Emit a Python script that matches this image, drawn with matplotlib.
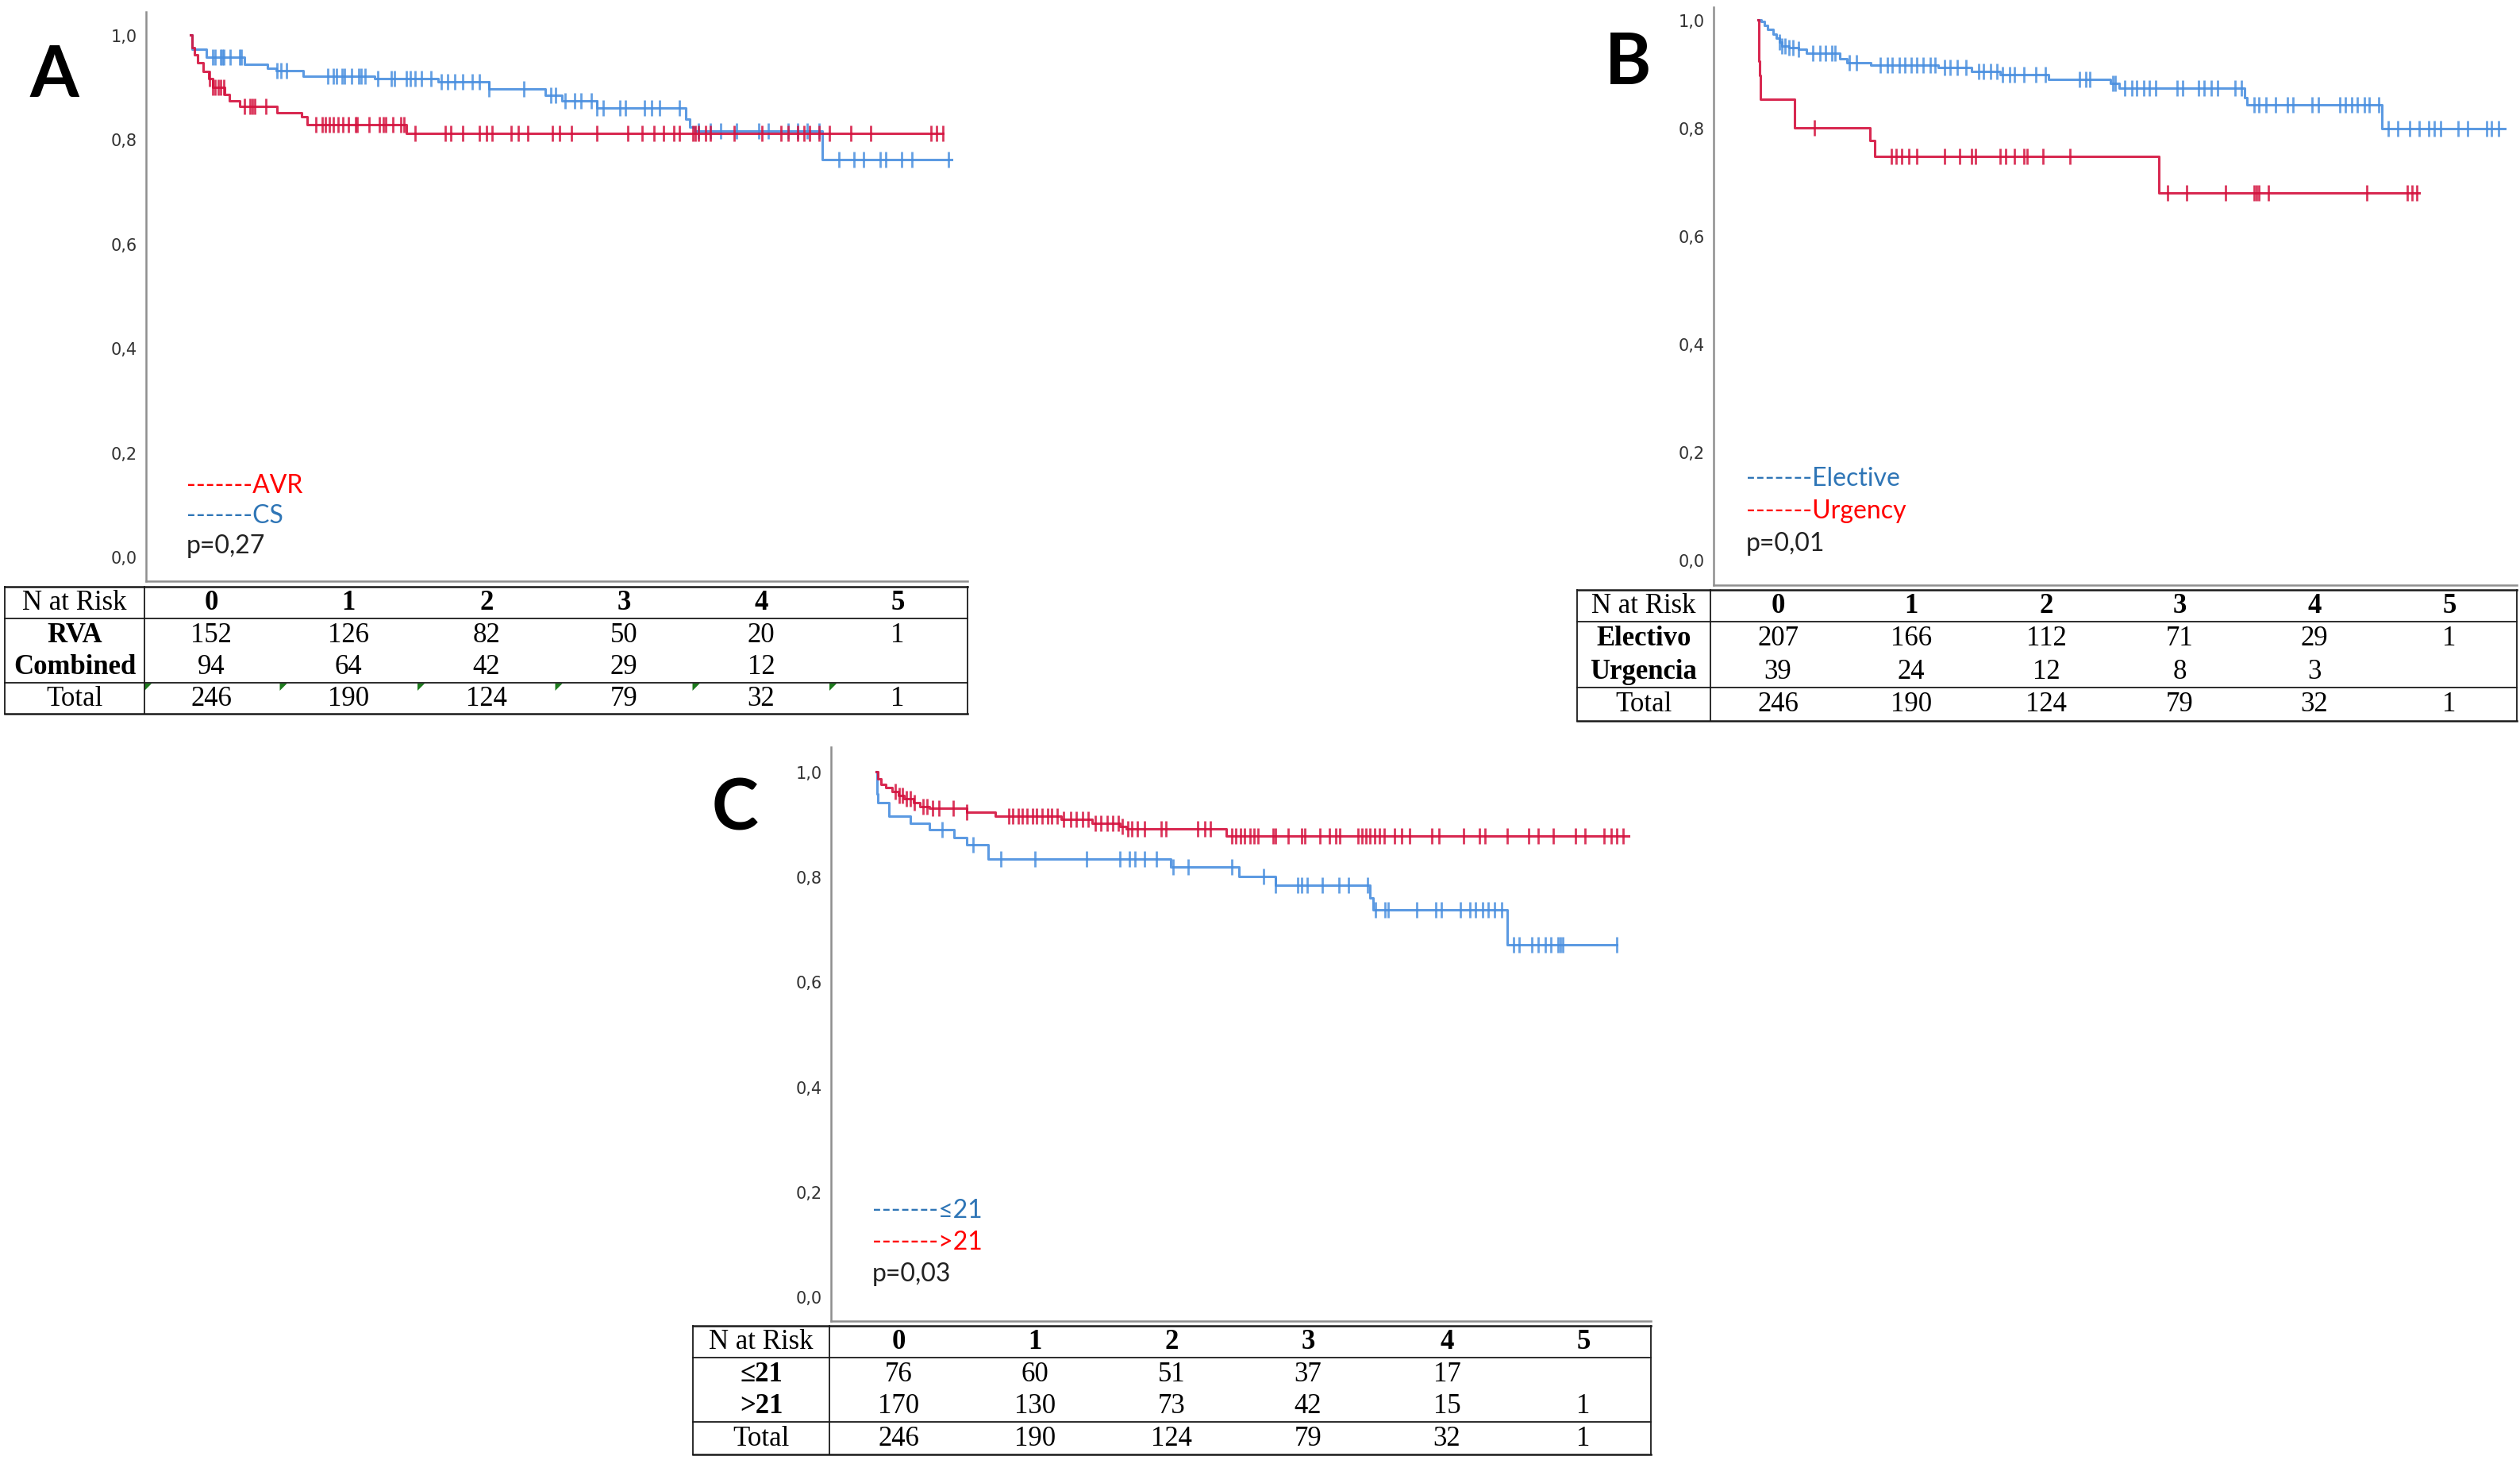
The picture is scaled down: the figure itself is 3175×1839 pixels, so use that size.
import matplotlib
matplotlib.use('Agg')
import matplotlib.pyplot as plt
import numpy as np

W, H = 3175, 1840
RED = '#d4123e'
BLUE = '#4a8fdf'
TXT_RED = '#ff0000'
TXT_BLUE = '#2e75b6'

# ---------- Panel A: AVR vs CS (time in years) ----------
avr_t = [0, 0.01, 0.03, 0.05, 0.09, 0.13, 0.16, 0.25, 0.28, 0.36, 0.63, 0.81, 0.85, 1.57]
avr_s = [1.0, 0.975, 0.962, 0.947, 0.930, 0.916, 0.900, 0.886, 0.874, 0.863, 0.851, 0.843, 0.828, 0.812]
avr_end = 5.47
avr_cens = [0.14, 0.16, 0.18, 0.20, 0.22, 0.24, 0.39, 0.43, 0.45, 0.47, 0.55, 0.91, 0.96, 0.98,
            1.01, 1.04, 1.07, 1.11, 1.15, 1.20, 1.21, 1.30, 1.37, 1.40, 1.42, 1.47, 1.53, 1.55,
            1.63, 1.85, 1.89, 1.98, 2.10, 2.15, 2.19, 2.33, 2.38, 2.45, 2.63, 2.68, 2.77, 2.95,
            3.18, 3.28, 3.37, 3.44, 3.51, 3.55, 3.65, 3.67, 3.69, 3.74, 3.78, 3.95, 4.15, 4.29,
            4.34, 4.41, 4.46, 4.50, 4.57, 4.64, 4.80, 4.94, 5.38, 5.42, 5.47]

cs_t = [0, 0.01, 0.115, 0.39, 0.56, 0.62, 0.82, 1.34, 1.80, 2.17, 2.58, 2.70, 2.95, 3.60, 3.63, 3.66, 4.59]
cs_s = [1.0, 0.973, 0.957, 0.944, 0.936, 0.931, 0.921, 0.916, 0.910, 0.896, 0.884, 0.874, 0.860,
        0.839, 0.823, 0.816, 0.761]
cs_end = 5.53
cs_cens = [0.16, 0.18, 0.22, 0.23, 0.24, 0.29, 0.36, 0.37, 0.63, 0.66, 0.70, 1.00, 1.04, 1.06,
           1.10, 1.12, 1.17, 1.22, 1.24, 1.27, 1.36, 1.46, 1.48, 1.57, 1.60, 1.63, 1.68, 1.75,
           1.82, 1.87, 1.92, 1.98, 2.05, 2.10, 2.17, 2.42, 2.62, 2.65, 2.72, 2.79, 2.84, 2.91,
           2.95, 3.00, 3.12, 3.16, 3.30, 3.35, 3.41, 3.55, 3.69, 3.78, 3.85, 3.97, 4.13, 4.20,
           4.34, 4.41, 4.48, 4.57, 4.71, 4.82, 4.89, 5.01, 5.05, 5.17, 5.24, 5.51]

# ---------- Panel B: Elective vs Urgency ----------
el_t = [0, 0.023, 0.046, 0.068, 0.114, 0.137, 0.159, 0.18, 0.23, 0.30, 0.36, 0.61, 0.66, 0.84,
        1.34, 1.59, 1.80, 2.16, 2.62, 2.69, 3.62, 3.64, 4.64]
el_s = [1.0, 0.997, 0.99, 0.983, 0.973, 0.966, 0.959, 0.952, 0.949, 0.945, 0.938, 0.928, 0.921,
        0.916, 0.912, 0.904, 0.899, 0.890, 0.882, 0.873, 0.856, 0.842, 0.799]
el_end = 5.56
el_cens = [0.16, 0.18, 0.20, 0.23, 0.26, 0.30, 0.41, 0.46, 0.50, 0.55, 0.57, 0.68, 0.73, 0.91,
           0.96, 1.00, 1.05, 1.09, 1.14, 1.18, 1.23, 1.28, 1.32, 1.39, 1.43, 1.48, 1.55, 1.64,
           1.68, 1.73, 1.78, 1.82, 1.87, 1.91, 1.98, 2.07, 2.14, 2.39, 2.44, 2.47, 2.64, 2.66,
           2.73, 2.78, 2.82, 2.87, 2.91, 2.96, 3.12, 3.16, 3.28, 3.32, 3.37, 3.42, 3.55, 3.60,
           3.69, 3.73, 3.78, 3.85, 3.94, 3.98, 4.12, 4.17, 4.33, 4.37, 4.42, 4.46, 4.51, 4.55,
           4.62, 4.69, 4.76, 4.85, 4.92, 4.99, 5.03, 5.08, 5.21, 5.28, 5.42, 5.46, 5.51]

ur_t = [0, 0.004, 0.008, 0.012, 0.016, 0.27, 0.83, 0.87, 2.98]
ur_s = [1.0, 0.949, 0.923, 0.897, 0.853, 0.800, 0.776, 0.747, 0.679]
ur_end = 4.92
ur_cens = [0.42, 0.99, 1.03, 1.07, 1.12, 1.18, 1.39, 1.50, 1.59, 1.62, 1.80, 1.84, 1.91, 1.98,
           2.00, 2.12, 2.32, 3.05, 3.19, 3.48, 3.69, 3.71, 3.73, 3.80, 4.53, 4.83, 4.87, 4.90]

# ---------- Panel C: <=21 vs >21 ----------
lo_t = [0, 0.004, 0.008, 0.012, 0.09, 0.25, 0.39, 0.57, 0.66, 0.82, 2.15, 2.65, 2.92, 3.61, 3.63, 4.61]
lo_s = [1.0, 0.974, 0.957, 0.941, 0.916, 0.901, 0.889, 0.875, 0.861, 0.833, 0.819, 0.801, 0.783,
        0.760, 0.737, 0.670]
lo_end = 5.41
lo_cens = [0.48, 0.71, 0.91, 1.16, 1.54, 1.78, 1.85, 1.89, 1.96, 2.05, 2.17, 2.28, 2.60, 2.83,
           2.92, 3.08, 3.11, 3.15, 3.26, 3.38, 3.45, 3.59, 3.65, 3.72, 3.74, 3.95, 4.09, 4.13,
           4.27, 4.34, 4.38, 4.43, 4.47, 4.52, 4.57, 4.66, 4.70, 4.79, 4.84, 4.89, 4.93, 4.98,
           5.00, 5.02, 5.41]

hi_t = [0, 0.014, 0.037, 0.068, 0.114, 0.16, 0.205, 0.27, 0.32, 0.39, 0.66, 0.87, 1.35, 1.58,
        1.78, 1.83, 2.56]
hi_s = [1.0, 0.986, 0.976, 0.969, 0.962, 0.955, 0.948, 0.941, 0.934, 0.930, 0.923, 0.916, 0.909,
        0.902, 0.895, 0.891, 0.878]
hi_end = 5.50
hi_cens = [0.14, 0.17, 0.19, 0.22, 0.25, 0.28, 0.34, 0.37, 0.41, 0.46, 0.56, 0.66, 0.97, 1.00,
           1.04, 1.07, 1.10, 1.14, 1.17, 1.21, 1.25, 1.28, 1.32, 1.37, 1.42, 1.46, 1.51, 1.55,
           1.60, 1.64, 1.69, 1.73, 1.77, 1.80, 1.84, 1.87, 1.91, 1.96, 2.08, 2.12, 2.35, 2.40,
           2.44, 2.60, 2.63, 2.66, 2.69, 2.73, 2.76, 2.79, 2.90, 2.92, 3.01, 3.11, 3.13, 3.24,
           3.31, 3.36, 3.39, 3.52, 3.55, 3.58, 3.61, 3.64, 3.68, 3.71, 3.79, 3.84, 3.90, 4.06,
           4.11, 4.29, 4.41, 4.45, 4.61, 4.77, 4.84, 4.95, 5.11, 5.18, 5.32, 5.37, 5.41, 5.46]

# ---------- numbers at risk ----------
years = ['0', '1', '2', '3', '4', '5']
total_risk = [246, 190, 124, 79, 32, 1]
a_labels = ['RVA', 'Combined']
a_rows = [[152, 126, 82, 50, 20, 1], [94, 64, 42, 29, 12, '']]
b_labels = ['Electivo', 'Urgencia']
b_rows = [[207, 166, 112, 71, 29, 1], [39, 24, 12, 8, 3, '']]
c_labels = ['≤21', '>21']
c_rows = [[76, 60, 51, 37, 17, ''], [170, 130, 73, 42, 15, 1]]


fig = plt.figure(figsize=(W / 100, H / 100), dpi=100, facecolor='white')


def px_axes(left, top, right, bottom):
    return fig.add_axes([left / W, 1 - bottom / H, (right - left) / W, (bottom - top) / H])


def km_axes(left, top, right, bottom, x0, ppy, y1, y0):
    ax = px_axes(left, top, right, bottom)
    per = y0 - y1
    ax.set_xlim((left - x0) / ppy, (right - x0) / ppy)
    ax.set_ylim((y0 - bottom) / per, 1 + (y1 - top) / per)
    ax.set_xticks([])
    yt = [0, 0.2, 0.4, 0.6, 0.8, 1.0]
    ax.set_yticks(yt)
    ax.set_yticklabels([f'{v:.1f}'.replace('.', ',') for v in yt],
                       fontsize=15, color='#333333', family='DejaVu Sans')
    ax.tick_params(axis='y', length=0, pad=8)
    for s in ['top', 'right']:
        ax.spines[s].set_visible(False)
    for s in ['left', 'bottom']:
        ax.spines[s].set_color('#8f8f8f')
        ax.spines[s].set_linewidth(1.8)
    return ax


def km_curve(ax, t, s, end, cens, color):
    tt = np.append(t, end)
    ss = np.append(s, s[-1])
    ax.step(tt, ss, where='post', color=color, lw=2.2, alpha=0.9)
    c = np.asarray(cens)
    idx = np.searchsorted(tt, c, side='right') - 1
    ax.plot(c, ss[idx], ls='none', marker='|', ms=15, mew=2.0, color=color, alpha=0.85)


def legend_text(ov, x, ys, labels, colors, pval):
    for y, lab, col in zip(ys, labels, colors):
        ov.text(x, y, '-------' + lab, color=col, fontsize=23, family='Lato',
                ha='left', va='center')
    ov.text(x, ys[-1] + (ys[1] - ys[0]), pval, color='#222222', fontsize=23, family='Lato',
            ha='left', va='center')


def risk_table(ov, left, right, top, hdr_bot, tot_top, bottom, vline, col_x,
               labels, rows, totals, marks=False):
    fam = ['Liberation Serif', 'DejaVu Serif']
    lab_x = (left + vline) / 2
    for y in [top, bottom]:
        ov.plot([left, right], [y, y], color='#1a1a1a', lw=1.8)
    for y in [hdr_bot, tot_top]:
        ov.plot([left, right], [y, y], color='#1a1a1a', lw=1.3)
    ov.plot([left, left], [top, bottom], color='#1a1a1a', lw=1.3)
    ov.plot([right, right], [top, bottom], color='#1a1a1a', lw=1.3)
    ov.plot([vline, vline], [top, bottom], color='#1a1a1a', lw=1.3)
    fs = 25
    yh = (top + hdr_bot) / 2
    ov.text(lab_x, yh, 'N at Risk', fontsize=fs, family=fam, ha='center', va='center')
    for x, yr in zip(col_x, years):
        ov.text(x, yh, yr, fontsize=fs, family=fam, weight='bold', ha='center', va='center')
    rh = (tot_top - hdr_bot) / len(rows)
    for i, (lab, vals) in enumerate(zip(labels, rows)):
        y = hdr_bot + rh * (i + 0.5)
        ov.text(lab_x, y, lab, fontsize=fs, family=fam, weight='bold', ha='center', va='center')
        for x, v in zip(col_x, vals):
            ov.text(x, y, str(v), fontsize=fs, family=fam, ha='center', va='center')
    yt = (tot_top + bottom) / 2
    ov.text(lab_x, yt, 'Total', fontsize=fs, family=fam, ha='center', va='center')
    for x, v in zip(col_x, totals):
        ov.text(x, yt, str(v), fontsize=fs, family=fam, ha='center', va='center')
    if marks:
        edges = [vline] + [(a + b) / 2 for a, b in zip(col_x[:-1], col_x[1:])]
        for x in edges:
            ov.fill([x, x + 9, x], [tot_top + 1, tot_top + 1, tot_top + 10], color='#1e7b1e', lw=0)


# Panel A
axA = km_axes(184, 16, 1219, 733, 240, 173.4, 45, 702)
km_curve(axA, cs_t, cs_s, cs_end, cs_cens, BLUE)
km_curve(axA, avr_t, avr_s, avr_end, avr_cens, RED)

# Panel B
axB = km_axes(2159, 10, 3171, 738, 2215, 169.3, 26, 706)
km_curve(axB, el_t, el_s, el_end, el_cens, BLUE)
km_curve(axB, ur_t, ur_s, ur_end, ur_cens, RED)

# Panel C
axC = km_axes(1047, 942, 2080, 1665, 1104, 172.4, 973, 1634)
km_curve(axC, lo_t, lo_s, lo_end, lo_cens, BLUE)
km_curve(axC, hi_t, hi_s, hi_end, hi_cens, RED)

# overlay in pixel coordinates for labels and tables
ov = fig.add_axes([0, 0, 1, 1])
ov.set_xlim(0, W)
ov.set_ylim(H, 0)
ov.axis('off')

for letter, x, y in [('A', 68, 96), ('B', 2051, 80), ('C', 926, 1020)]:
    ov.text(x, y, letter, fontsize=64, family='Lato', weight='bold', ha='center', va='center')

legend_text(ov, 235, [612, 650], ['AVR', 'CS'], [TXT_RED, TXT_BLUE], 'p=0,27')
legend_text(ov, 2200, [603, 644], ['Elective', 'Urgency'], [TXT_BLUE, TXT_RED], 'p=0,01')
legend_text(ov, 1099, [1525, 1565], ['≤21', '>21'], [TXT_BLUE, TXT_RED], 'p=0,03')

risk_table(ov, 6, 1219, 740, 780, 861, 900, 182, [266, 439, 613, 786, 959, 1131],
           a_labels, a_rows, total_risk, marks=True)
risk_table(ov, 1987, 3171, 744, 784, 867, 909, 2155, [2240, 2408, 2578, 2746, 2916, 3086],
           b_labels, b_rows, total_risk)
risk_table(ov, 873, 2080, 1671, 1711, 1792, 1833, 1045, [1132, 1304, 1476, 1648, 1823, 1995],
           c_labels, c_rows, total_risk)

fig.savefig('out.png', dpi=100, facecolor='white')
